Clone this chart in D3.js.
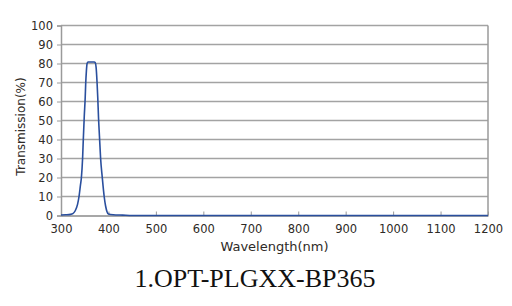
<!DOCTYPE html>
<html>
<head>
<meta charset="utf-8">
<script src="https://cdn.jsdelivr.net/npm/d3@7"></script>
<style>
  body { margin: 0; background: #fff; }
  .tick text { font-family: "DejaVu Sans", sans-serif; font-size: 11.5px; fill: #2e2a26; }
  .label { font-family: "DejaVu Sans", sans-serif; font-size: 13px; fill: #2e2a26; }
  .title { font-family: "Liberation Serif", "Times New Roman", serif; font-size: 26px; fill: #111; }
</style>
</head>
<body>
<div id="chart"></div>
<script>
// spectrum
var wavelengths = [300, 310, 320, 325, 330, 335, 338, 341, 343, 345.5, 347, 349, 351, 352, 353.5, 355, 357, 370, 372, 374, 376, 377.5, 379, 381, 383.5, 387, 391, 394, 397, 400, 410, 430, 450, 1200];
var transmission = [0.3, 0.4, 0.6, 1, 2.5, 6, 10, 16, 20, 30, 40, 52, 62, 69, 76, 80, 80.8, 80.8, 80.5, 78, 70, 62, 52, 42, 30, 20, 10, 5, 2, 0.8, 0.4, 0.2, 0, 0];
var xTicks = [300, 400, 500, 600, 700, 800, 900, 1000, 1100, 1200];
var yTicks = [0, 10, 20, 30, 40, 50, 60, 70, 80, 90, 100];

var margin = { top: 25.5, right: 24, bottom: 90.5, left: 61 };
var W = 512, H = 306;
var width = W - margin.left - margin.right;
var height = H - margin.top - margin.bottom;

var svg = d3.select('#chart').append('svg')
    .attr('width', W)
    .attr('height', H);
var g = svg.append('g')
    .attr('transform', 'translate(' + margin.left + ',' + margin.top + ')');

var x = d3.scaleLinear().domain([300, 1200]).range([0, width]);
var y = d3.scaleLinear().domain([0, 100]).range([height, 0]);

// horizontal grid
g.append('g')
    .selectAll('line')
    .data(yTicks.slice(1))
    .enter().append('line')
    .attr('x1', 0)
    .attr('x2', width)
    .attr('y1', function(d) { return y(d); })
    .attr('y2', function(d) { return y(d); })
    .attr('stroke', '#a3a3a3')
    .attr('stroke-width', 1.5);

// right border
g.append('line')
    .attr('x1', width).attr('x2', width)
    .attr('y1', 0).attr('y2', height)
    .attr('stroke', '#9a9a9a')
    .attr('stroke-width', 1.5);

var yAxis = d3.axisLeft(y).tickValues(yTicks).tickSize(4).tickPadding(4);
var yg = g.append('g').call(yAxis);
yg.select('.domain').attr('stroke', '#9a9a9a').attr('stroke-width', 1.5);
yg.selectAll('.tick line').attr('stroke', '#9a9a9a');

var xAxis = d3.axisBottom(x).tickValues(xTicks).tickFormat(d3.format('d'))
    .tickSize(-4).tickPadding(9).tickSizeOuter(0);
var xg = g.append('g')
    .attr('transform', 'translate(0,' + height + ')')
    .call(xAxis);
xg.select('.domain').attr('stroke', '#8a8a8a').attr('stroke-width', 1.5);
xg.selectAll('.tick line').attr('stroke', '#9a9a9a');

// curve
var data = wavelengths.map(function(w, i) { return { w: w, t: transmission[i] }; });
var line = d3.line()
    .x(function(d) { return x(d.w); })
    .y(function(d) { return y(d.t); })
    .curve(d3.curveMonotoneX);

g.append('path')
    .datum(data)
    .attr('fill', 'none')
    .attr('stroke', '#2a4f9e')
    .attr('stroke-width', 1.6)
    .attr('d', line);

// axis titles
g.append('text')
    .attr('class', 'label')
    .attr('x', width / 2)
    .attr('y', height + 35)
    .attr('text-anchor', 'middle')
    .text('Wavelength(nm)');

svg.append('text')
    .attr('class', 'label')
    .attr('transform', 'translate(25,126.5) rotate(-90)')
    .attr('text-anchor', 'middle')
    .style('font-size', '12px')
    .text('Transmission(%)');

svg.append('text')
    .attr('class', 'title')
    .attr('x', 255)
    .attr('y', 287)
    .attr('text-anchor', 'middle')
    .text('1.OPT-PLGXX-BP365');
</script>
</body>
</html>
